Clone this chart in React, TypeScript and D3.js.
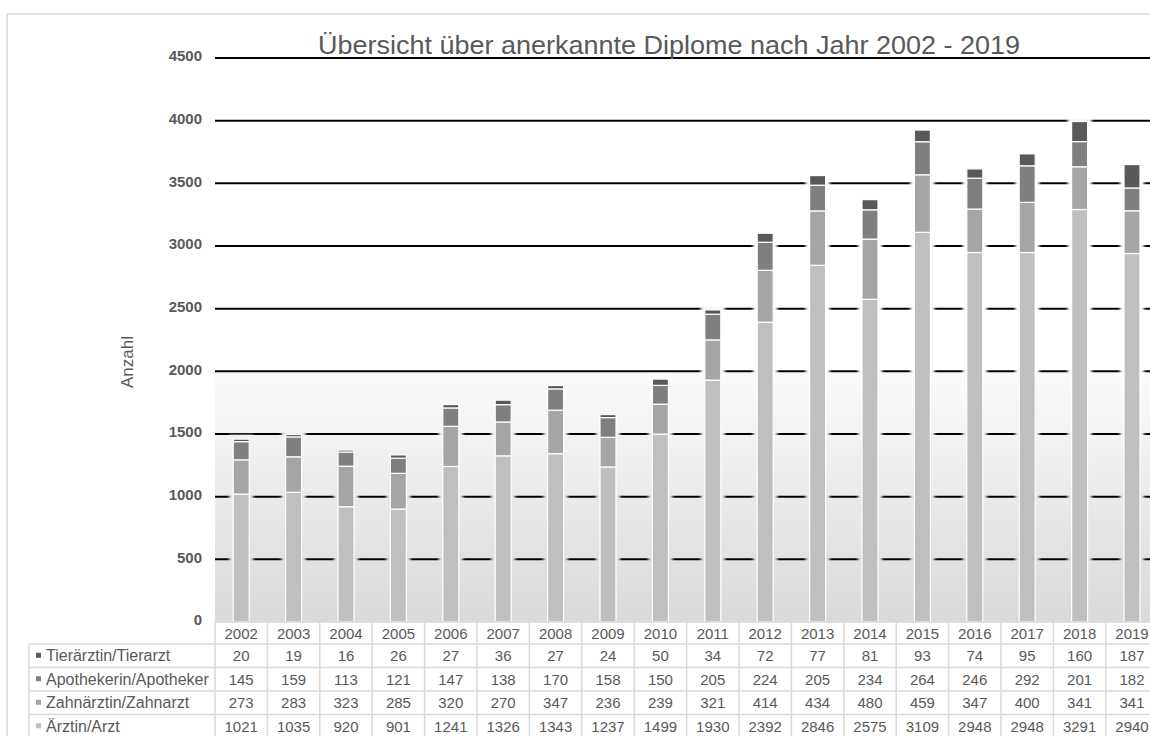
import React from 'react';
import * as d3 from 'd3';

const years = ['2002', '2003', '2004', '2005', '2006', '2007', '2008', '2009', '2010', '2011', '2012', '2013', '2014', '2015', '2016', '2017', '2018', '2019'];
const arzt = [1021, 1035, 920, 901, 1241, 1326, 1343, 1237, 1499, 1930, 2392, 2846, 2575, 3109, 2948, 2948, 3291, 2940];
const zahnarzt = [273, 283, 323, 285, 320, 270, 347, 236, 239, 321, 414, 434, 480, 459, 347, 400, 341, 341];
const apotheker = [145, 159, 113, 121, 147, 138, 170, 158, 150, 205, 224, 205, 234, 264, 246, 292, 201, 182];
const tierarzt = [20, 19, 16, 26, 27, 36, 27, 24, 50, 34, 72, 77, 81, 93, 74, 95, 160, 187];
const seriesKeys = ['arzt', 'zahnarzt', 'apotheker', 'tierarzt'];
const seriesNames = ['Ärztin/Arzt', 'Zahnärztin/Zahnarzt', 'Apothekerin/Apotheker', 'Tierärztin/Tierarzt'];
const seriesColors = ['#bfbfbf', '#a5a5a5', '#7f7f7f', '#595959'];
const yTicks = [0, 500, 1000, 1500, 2000, 2500, 3000, 3500, 4000, 4500];

const W = 1150;
const H = 736;
const font = 'Liberation Sans, Arial, sans-serif';
const textColor = '#595959';
const lineColor = '#d9d9d9';

const App = () => {
    const plotLeft = 215;
    const step = 52.4;
    const plotTop = 58;
    const plotBottom = 622;

    const x = d3.scaleBand<string>()
        .domain(years)
        .range([plotLeft, plotLeft + step * years.length]);
    const y = d3.scaleLinear()
        .domain([0, 4500])
        .range([plotBottom, plotTop]);

    const rows = years.map((yr, i) => ({
        year: yr,
        arzt: arzt[i],
        zahnarzt: zahnarzt[i],
        apotheker: apotheker[i],
        tierarzt: tierarzt[i],
    }));
    const stacked = d3.stack<any>().keys(seriesKeys)(rows);
    const seriesData = [arzt, zahnarzt, apotheker, tierarzt];

    const barW = 16;
    const barX = (yr: string) => (x(yr) as number) + x.bandwidth() / 2 - barW / 2;

    // table geometry
    const headerTop = plotBottom;
    const headerBottom = 644;
    const rowH = 23.5;
    const tableLeft = 29;
    const tableOrder = [3, 2, 1, 0];

    return (
        <svg width={W} height={H} style={{ position: 'absolute', left: 0, top: 0, background: '#fff' }} fontFamily={font}>
            <defs>
                <linearGradient id="bgGrad" x1="0" y1="0" x2="0" y2="1">
                    <stop offset="0%" stopColor="#fbfbfb" />
                    <stop offset="100%" stopColor="#d9d9d9" />
                </linearGradient>
                <filter id="soft" x="-50%" y="-10%" width="200%" height="120%">
                    <feGaussianBlur stdDeviation="1.6" />
                </filter>
                <mask id="gridMask" maskUnits="userSpaceOnUse" x="0" y="0" width={W} height={H}>
                    <rect x={0} y={0} width={W} height={H} fill="#fff" />
                    <g filter="url(#soft)">
                        {years.map((yr, i) => {
                            const top = stacked[3][i][1];
                            return (
                                <rect key={yr} x={barX(yr) - 4} y={y(top) - 4} width={barW + 8}
                                    height={plotBottom - y(top) + 4} fill="#000" />
                            );
                        })}
                    </g>
                </mask>
            </defs>

            {/* outer chart border */}
            <line x1={7} y1={14} x2={W} y2={14} stroke={lineColor} strokeWidth={1.5} />
            <line x1={7} y1={14} x2={7} y2={H} stroke={lineColor} strokeWidth={1.5} />

            {/* plot background */}
            <rect x={plotLeft} y={y(2000)} width={W - plotLeft} height={plotBottom - y(2000)} fill="url(#bgGrad)" />

            {/* gridlines */}
            <g mask="url(#gridMask)">
                {yTicks.filter(t => t > 0).map(t => (
                    <line key={t} x1={plotLeft} x2={W} y1={y(t)} y2={y(t)} stroke="#000" strokeWidth={2} />
                ))}
            </g>

            {/* y tick labels */}
            {yTicks.map(t => (
                <text key={t} x={202} y={y(t) - 2} dy="0.35em" textAnchor="end" fontSize={15}
                    fontWeight="bold" fill={textColor}>{t}</text>
            ))}

            <text transform={`translate(133, 362) rotate(-90)`} textAnchor="middle" fontSize={17}
                fill={textColor}>Anzahl</text>

            {/* bars */}
            {stacked.map((s, si) => (
                <g key={s.key} fill={seriesColors[si]}>
                    {s.map((d, i) => (
                        <rect key={years[i]} x={barX(years[i])} y={y(d[1])} width={barW}
                            height={y(d[0]) - y(d[1])} stroke="#fff" strokeWidth={1.2} />
                    ))}
                </g>
            ))}

            {/* title */}
            <text x={669} y={54} textAnchor="middle" fontSize={25} fill={textColor}
                textLength={702} lengthAdjust="spacingAndGlyphs">
                Übersicht über anerkannte Diplome nach Jahr 2002 - 2019
            </text>

            {/* data table */}
            <g stroke={lineColor} strokeWidth={1.5}>
                <line x1={plotLeft} x2={W} y1={headerTop} y2={headerTop} />
                {[0, 1, 2, 3, 4].map(r => (
                    <line key={r} x1={tableLeft} x2={W} y1={headerBottom + r * rowH} y2={headerBottom + r * rowH} />
                ))}
                <line x1={tableLeft} x2={tableLeft} y1={headerBottom} y2={H} />
                {years.map(yr => (
                    <line key={yr} x1={x(yr)} x2={x(yr)} y1={headerTop} y2={H} />
                ))}
            </g>
            {years.map(yr => (
                <text key={yr} x={(x(yr) as number) + x.bandwidth() / 2} y={(headerTop + headerBottom) / 2 + 1}
                    dy="0.35em" textAnchor="middle" fontSize={15} fill={textColor}>{yr}</text>
            ))}
            {tableOrder.map((si, r) => {
                const cy = headerBottom + r * rowH + rowH / 2;
                return (
                    <g key={seriesKeys[si]}>
                        <rect x={36} y={cy - 3} width={5} height={5} fill={seriesColors[si]} />
                        <text x={46} y={cy} dy="0.35em" fontSize={16} fill={textColor}>{seriesNames[si]}</text>
                        {years.map((yr, i) => (
                            <text key={yr} x={(x(yr) as number) + x.bandwidth() / 2} y={cy} dy="0.35em"
                                textAnchor="middle" fontSize={15} fill={textColor}>{seriesData[si][i]}</text>
                        ))}
                    </g>
                );
            })}
        </svg>
    );
};

export default App;
